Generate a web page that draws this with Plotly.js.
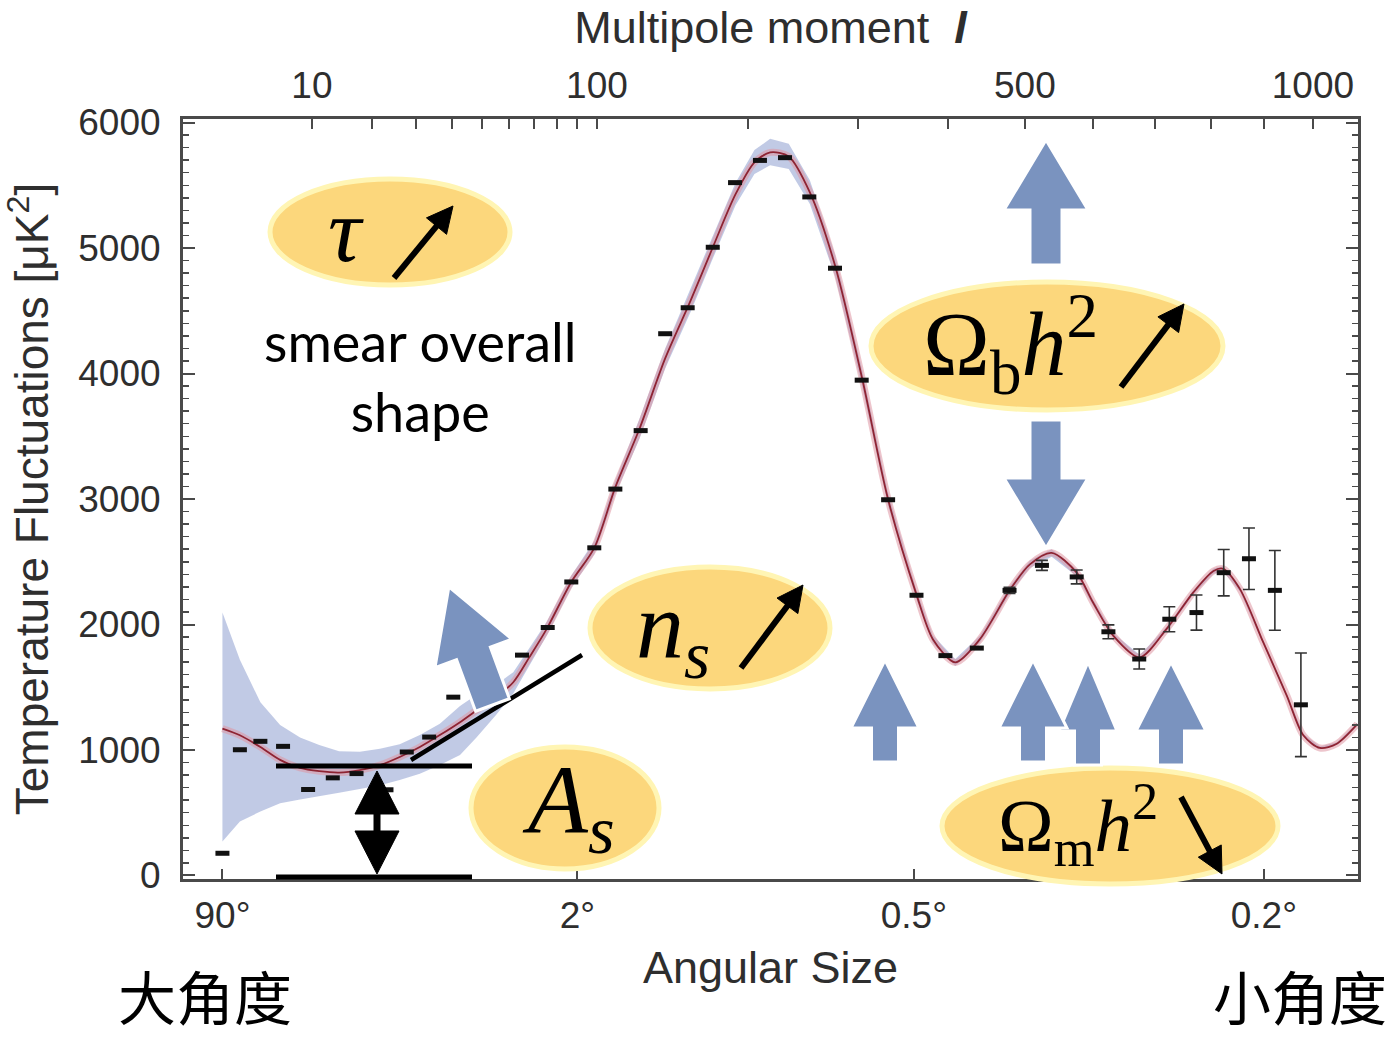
<!DOCTYPE html>
<html>
<head>
<meta charset="utf-8">
<script src="https://cdn.plot.ly/plotly-3.0.1.min.js"></script>
<style>html,body{margin:0;padding:0;background:#fff;}#chart{width:1396px;height:1037px;}</style>
</head>
<body>
<div id="chart"></div>
<script>
// ---------------- DATA ----------------
// model curve: multipole l and D_l [uK^2]
const modelL = [2,3,4.5,6.3,8.5,11,14,17.6,21.6,26,31,36.5,42.6,48,55,61.5,68,75.5,87,98.6,110,124,140,157,173,190,205,218,234,253,277,304,331,363,382,409,440,480,507,538,575,600,632,675,720,767,804,822,854,899,946,980,1015,1051,1096];
const modelD = [1170,1117,1024,921,857,831,820,839,879,944,1024,1119,1222,1315,1421,1540,1738,1963,2339,2611,3095,3560,4120,4580,5010,5429,5683,5762,5730,5444,4857,3960,3008,2238,1883,1698,1883,2280,2479,2571,2413,2175,1910,1738,1963,2254,2426,2444,2280,1857,1434,1117,1016,1050,1206];
// cosmic-variance band (lower / upper)
const bandLo = [270,430,510,575,605,635,660,690,720,760,810,880,960,1100,1280,1450,1670,1910,2290,2560,3040,3480,4040,4490,4920,5340,5590,5660,5630,5350,4770,3890,2955,2200,1850,1670,1855,2250,2450,2540,2385,2150,1890,1720,1945,2235,2405,2423,2260,1840,1420,1105,1005,1039,1194];
const bandHi = [2095,1720,1380,1200,1100,1040,990,985,1010,1045,1120,1210,1350,1440,1520,1620,1810,2020,2390,2665,3150,3640,4200,4670,5100,5520,5780,5870,5830,5540,4945,4030,3060,2275,1915,1725,1910,2310,2510,2600,2440,2200,1930,1756,1980,2273,2447,2465,2300,1875,1448,1130,1027,1061,1218];
// measured band powers
const dataL = [2,3,4.5,6.6,9.5,13,17,23,27.7,33.5,40.5,65,76,87,98.6,110,124.7,140,155,172.8,189.6,209.5,230.7,252.5,276.8,303.5,331.4,363,397,436,479,524,575,624,674,725,773,823,871,922,975];
const dataD = [177,1002,1069,1029,685,778,812,683,984,1103,1421,1756,1976,2339,2611,3079,3545,4317,4524,5006,5521,5698,5720,5407,4839,3947,2994,2233,1752,1812,2272,2471,2379,1942,1725,2042,2095,2413,2524,2272,1360];
const dataErr = [0,0,0,0,0,0,0,0,0,0,0,0,0,0,0,0,0,0,0,0,0,0,0,0,0,0,0,0,0,0,25,40,55,55,80,100,140,185,245,318,413];
// axis ticks
const topMajorL = [10,100,500,1000];
const topMajorText = ['10','100','500','1000'];
const topMinorL = [20,30,40,50,60,70,80,90,200,300,400,600,700,800,900];
const angTickL = [2,90,360,900];
const angTickText = ['90°','2°','0.5°','0.2°'];

// ---------------- SCALE (x plotted as l^0.4) ----------------
const P = 0.4;
const sx = l => Math.pow(l, P);
const xRange = [0.794, 16.45];
const yRange = [-28, 6028];

// ---------------- traces ----------------
const mx = modelL.map(sx), dx = dataL.map(sx);
const traces = [
  {x: mx, y: bandHi, mode:'lines', line:{width:0, color:'rgba(0,0,0,0)'}, hoverinfo:'skip', showlegend:false},
  {x: mx, y: bandLo, mode:'lines', line:{width:0, color:'rgba(0,0,0,0)'}, fill:'tonexty', fillcolor:'rgba(190,199,228,0.95)', hoverinfo:'skip', showlegend:false},
  {x: mx, y: modelD, mode:'lines', line:{width:7, color:'rgba(222,150,162,0.55)', shape:'spline', smoothing:0.8}, hoverinfo:'skip', showlegend:false},
  {x: mx, y: modelD, mode:'lines', line:{width:1.8, color:'#8e2433', shape:'spline', smoothing:0.8}, showlegend:false},
  {x: dx, y: dataD, mode:'markers', marker:{symbol:'line-ew', size:10, color:'#111', line:{width:5, color:'#111'}},
   error_y:{type:'data', array:dataErr, visible:true, color:'#333', thickness:1.6, width:6}, showlegend:false},
  {x: [], y: [], xaxis:'x2', yaxis:'y2', showlegend:false, hoverinfo:'skip'}
];

// ---------------- helpers for decoration (pixel -> paper) ----------------
const PL = 183, PR = 1358, PT = 119, PB = 879;
const qx = p => (p - PL) / (PR - PL);
const qy = p => (PB - p) / (PB - PT);
const BLUE = '#7a93bf';
function polyPath(pts) {
  return 'M' + pts.map(p => qx(p[0]).toFixed(5) + ',' + qy(p[1]).toFixed(5)).join(' L') + ' Z';
}
function blockArrow(bx, by, dxu, dyu, shaftLen, headLen, shaftHalf, headHalf) {
  const n = Math.hypot(dxu, dyu); const ux = dxu/n, uy = dyu/n; const px = -uy, py = ux;
  const hx = bx + ux*shaftLen, hy = by + uy*shaftLen;
  const tx = hx + ux*headLen, ty = hy + uy*headLen;
  const pts = [[bx - px*shaftHalf, by - py*shaftHalf],[hx - px*shaftHalf, hy - py*shaftHalf],[hx - px*headHalf, hy - py*headHalf],[tx, ty],
               [hx + px*headHalf, hy + py*headHalf],[hx + px*shaftHalf, hy + py*shaftHalf],[bx + px*shaftHalf, by + py*shaftHalf]];
  return {type:'path', xref:'paper', yref:'paper', path:polyPath(pts), fillcolor:BLUE, line:{color:'#ffffff', width:3}, layer:'above'};
}
function ellipse(cx, cy, rx, ry) {
  return {type:'circle', xref:'paper', yref:'paper', x0:qx(cx-rx), x1:qx(cx+rx), y0:qy(cy+ry), y1:qy(cy-ry),
          fillcolor:'#fcd77c', line:{color:'#fff5b4', width:5}, layer:'above'};
}
function seg(x0, y0, x1, y1, w) {
  return {type:'line', xref:'paper', yref:'paper', x0:qx(x0), x1:qx(x1), y0:qy(y0), y1:qy(y1), line:{color:'#000', width:w}, layer:'above'};
}
function tri(pts) {
  return {type:'path', xref:'paper', yref:'paper', path:polyPath(pts), fillcolor:'#000', line:{color:'#000', width:1}, layer:'above'};
}
// slim black arrow (tail -> tip) made of a line and a triangular head
function blackArrow(x0, y0, x1, y1, headLen, headHalf, w) {
  headLen = headLen || 26; headHalf = headHalf || 13; w = w || 6;
  const n = Math.hypot(x1-x0, y1-y0); const ux = (x1-x0)/n, uy = (y1-y0)/n; const px = -uy, py = ux;
  const bx = x1 - ux*headLen, by = y1 - uy*headLen;
  return [seg(x0, y0, bx + ux*2, by + uy*2, w),
          tri([[x1, y1],[bx + px*headHalf, by + py*headHalf],[bx - px*headHalf, by - py*headHalf]])];
}

const shapes = [
  ellipse(390, 232, 120, 53),
  ellipse(1047, 346, 176, 64),
  ellipse(710, 628, 120, 61),
  ellipse(565, 808, 94, 61),
  ellipse(1110, 826, 168, 58),
  // A_s bracket
  seg(276, 766, 472, 766, 5),
  seg(276, 877, 472, 877, 5),
  seg(377, 800, 377, 845, 7),
  tri([[377,771],[355,814],[399,814]]),
  tri([[377,874],[355,831],[399,831]]),
  // n_s tangent line
  seg(411, 760, 582, 655, 4.5),
  // blue arrows
  blockArrow(1046, 265, 0, -1, 55, 70, 16, 42),
  blockArrow(1046, 420, 0, 1, 58, 70, 16, 42),
  blockArrow(885, 762, 0, -1, 34, 68, 13.5, 34),
  blockArrow(1088, 765, 0, -1, 34, 69, 13.5, 29),
  blockArrow(1033, 762, 0, -1, 34, 68, 13.5, 34),
  blockArrow(1171, 765, 0, -1, 34, 69, 13.5, 35),
  blockArrow(492.5, 705, -0.346, -0.938, 55, 71, 18, 41)
].concat(
  blackArrow(394, 278, 453, 206),
  blackArrow(1121, 387, 1184, 304),
  blackArrow(741, 668, 803, 585),
  blackArrow(1181, 797, 1222, 874)
);

const serif = 'Liberation Serif, DejaVu Serif, serif';
function mathText(x, y, txt, size) {
  return {xref:'paper', yref:'paper', x:qx(x), y:qy(y), text:txt, showarrow:false, xanchor:'center', yanchor:'middle',
          font:{family:serif, size:size, color:'#000'}};
}
function plainText(x, y, txt, size, family) {
  return {xref:'paper', yref:'paper', x:qx(x), y:qy(y), text:txt, showarrow:false, xanchor:'center', yanchor:'middle',
          align:'center', font:{family:family, size:size, color:'#000'}};
}
const annotations = [
  mathText(346, 230, '<i>τ</i>', 92),
  mathText(1010, 344, 'Ω<sub>b</sub><i>h</i><sup>2</sup>', 90),
  mathText(673, 632, '<i>n</i><sub><i>s</i></sub>', 96),
  mathText(568, 806, '<i>A</i><sub><i>s</i></sub>', 98),
  mathText(1078, 824, 'Ω<sub>m</sub><i>h</i><sup>2</sup>', 75),
  plainText(420, 376, 'smear overall<br>shape', 54, 'Lato, Open Sans, sans-serif'),
  plainText(205, 995, '大角度', 58, 'Noto Sans CJK SC'),
  plainText(1300, 995, '小角度', 58, 'Noto Sans CJK SC')
];

const tickFont = {family:'Liberation Sans, Arial, sans-serif', size:37, color:'#2e2e2e'};
const titleFont = {family:'Liberation Sans, Arial, sans-serif', size:45, color:'#2e2e2e'};
const frame = {showline:true, linecolor:'#4a4a4a', linewidth:3};

const layout = {
  width:1396, height:1037, autosize:false,
  margin:{l:PL, r:1396-PR, t:PT, b:1037-PB, pad:0},
  paper_bgcolor:'#fff', plot_bgcolor:'#fff', showlegend:false,
  xaxis: Object.assign({}, frame, {
    range:xRange, tickmode:'array', tickvals:angTickL.map(sx), ticktext:angTickText,
    ticks:'inside', ticklen:10, tickwidth:2, tickcolor:'#4a4a4a', tickfont:tickFont, ticklabelstandoff:2,
    showgrid:false, zeroline:false, mirror:false,
    title:{text:'Angular Size', font:titleFont, standoff:17}
  }),
  xaxis2: Object.assign({}, frame, {
    overlaying:'x', side:'top', range:xRange, tickmode:'array', tickvals:topMajorL.map(sx), ticktext:topMajorText,
    ticks:'inside', ticklen:10, tickwidth:2, tickcolor:'#4a4a4a', tickfont:tickFont, ticklabelstandoff:3,
    minor:{tickmode:'array', tickvals:topMinorL.map(sx), ticks:'inside', ticklen:10, tickwidth:2, tickcolor:'#4a4a4a', showgrid:false},
    showgrid:false, zeroline:false,
    title:{text:'Multipole moment  <b><i>l</i></b>', font:titleFont, standoff:8}
  }),
  yaxis: Object.assign({}, frame, {
    range:yRange, tickmode:'linear', tick0:0, dtick:1000,
    ticks:'inside', ticklen:12, tickwidth:2, tickcolor:'#4a4a4a', tickfont:tickFont, ticklabelstandoff:12,
    minor:{tickmode:'linear', tick0:0, dtick:100, ticks:'inside', ticklen:6, tickwidth:1.5, tickcolor:'#4a4a4a', showgrid:false},
    showgrid:false, zeroline:false,
    title:{text:'Temperature Fluctuations [μK<sup>2</sup>]', font:{family:'Liberation Sans, Arial, sans-serif', size:46, color:'#2e2e2e'}, standoff:20}
  }),
  yaxis2: Object.assign({}, frame, {
    overlaying:'y', side:'right', range:yRange, tickmode:'linear', tick0:0, dtick:1000, showticklabels:false,
    ticks:'inside', ticklen:12, tickwidth:2, tickcolor:'#4a4a4a',
    minor:{tickmode:'linear', tick0:0, dtick:100, ticks:'inside', ticklen:6, tickwidth:1.5, tickcolor:'#4a4a4a', showgrid:false},
    showgrid:false, zeroline:false
  }),
  shapes, annotations
};

Plotly.newPlot('chart', traces, layout, {displayModeBar:false, staticPlot:true});
</script>
</body>
</html>
